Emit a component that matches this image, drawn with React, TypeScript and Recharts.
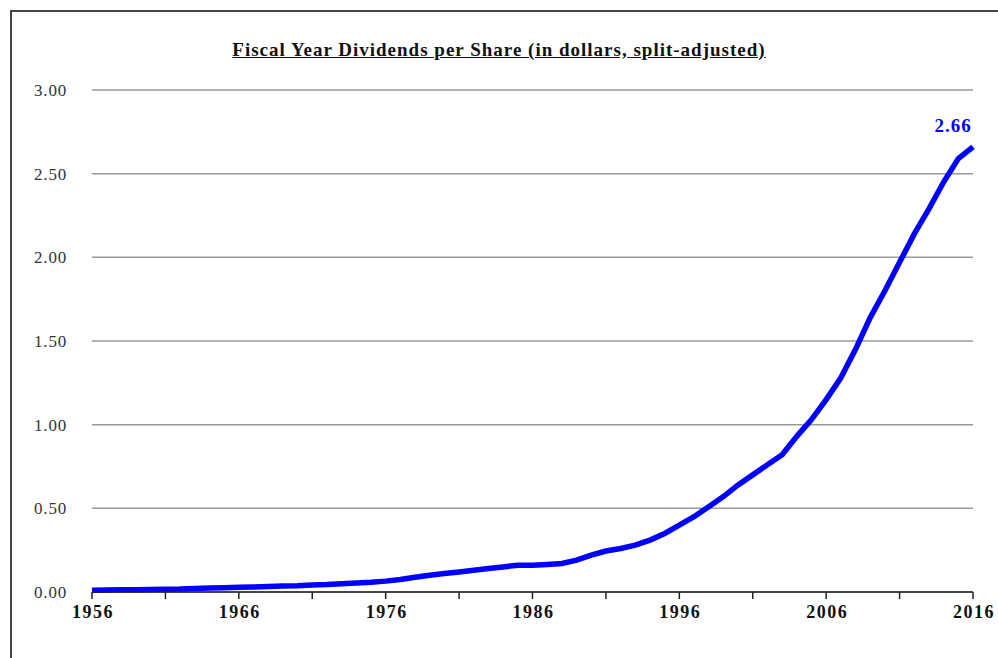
import React from 'react';
import { LineChart, Line, XAxis, YAxis, CartesianGrid } from 'recharts';

const years = [
  1956, 1957, 1958, 1959, 1960, 1961, 1962, 1963, 1964, 1965,
  1966, 1967, 1968, 1969, 1970, 1971, 1972, 1973, 1974, 1975,
  1976, 1977, 1978, 1979, 1980, 1981, 1982, 1983, 1984, 1985,
  1986, 1987, 1988, 1989, 1990, 1991, 1992, 1993, 1994, 1995,
  1996, 1997, 1998, 1999, 2000, 2001, 2002, 2003, 2004, 2005,
  2006, 2007, 2008, 2009, 2010, 2011, 2012, 2013, 2014, 2015, 2016,
];

const dividends = [
  0.01, 0.012, 0.013, 0.014, 0.015, 0.017, 0.018, 0.021, 0.024, 0.026,
  0.028, 0.03, 0.033, 0.036, 0.038, 0.042, 0.045, 0.05, 0.054, 0.058,
  0.065, 0.075, 0.088, 0.1, 0.11, 0.12, 0.13, 0.14, 0.15, 0.16,
  0.16, 0.165, 0.17, 0.19, 0.22, 0.245, 0.26, 0.28, 0.31, 0.35,
  0.4, 0.45, 0.51, 0.57, 0.64, 0.7, 0.76, 0.82, 0.93, 1.03,
  1.15, 1.28, 1.45, 1.64, 1.8, 1.97, 2.14, 2.29, 2.45, 2.59, 2.66,
];

const xTicks = [1956, 1961, 1966, 1971, 1976, 1981, 1986, 1991, 1996, 2001, 2006, 2011, 2016];
const yTicks = [0, 0.5, 1, 1.5, 2, 2.5, 3];
const endLabel = '2.66';

const chartData = years.map((year, i) => ({ year, value: dividends[i] }));

const font = '"Liberation Serif", "Times New Roman", serif';

// only every other tick (10 years) carries a label
const XTick = ({ x, y, payload }: any) => {
  if ((payload.value - 1956) % 10 !== 0) return null;
  return (
    <text x={x + 1} y={y} dy={17} textAnchor="middle" fontFamily={font} fontSize={18} fontWeight="bold" letterSpacing={1.5} fill="#111">
      {payload.value}
    </text>
  );
};

const YTick = ({ x, y, payload }: any) => (
  <text x={x} y={y} dy={6} textAnchor="end" fontFamily={font} fontSize={17} letterSpacing={0.8} fill="#333">
    {payload.value.toFixed(2)}
  </text>
);

const EndLabel = ({ x, y, index }: any) => {
  if (index !== years.length - 1) return null;
  return (
    <text x={x - 20} y={y - 15} textAnchor="middle" fontFamily={font} fontSize={19} fontWeight="bold" letterSpacing={1} fill="#0000ff">
      {endLabel}
    </text>
  );
};

export default function App() {
  return (
    <div style={{ position: 'absolute', left: 0, top: 0, width: 998, height: 658, overflow: 'hidden', background: '#fff' }}>
      <div style={{ position: 'absolute', left: 10, top: 10, width: 1100, height: 800, border: '2px solid #444' }} />
      <div
        style={{
          position: 'absolute', left: 0, top: 39, width: 998, textAlign: 'center',
          fontFamily: font, fontSize: 19, fontWeight: 'bold', letterSpacing: 1, textDecoration: 'underline', color: '#111',
        }}
      >
        Fiscal Year Dividends per Share (in dollars, split-adjusted)
      </div>
      <div style={{ position: 'absolute', left: 0, top: 0 }}>
        <LineChart width={998} height={658} data={chartData} margin={{ top: 90, right: 25, left: 0, bottom: 26 }}>
          <CartesianGrid vertical={false} stroke="#999" strokeWidth={1.5} />
          <XAxis
            dataKey="year"
            type="number"
            domain={[1956, 2016]}
            ticks={xTicks}
            interval={0}
            height={40}
            tick={<XTick />}
            tickSize={7}
            tickMargin={2}
            axisLine={{ stroke: '#222', strokeWidth: 1.5 }}
            tickLine={{ stroke: '#222', strokeWidth: 1.5 }}
          />
          <YAxis
            type="number"
            domain={[0, 3]}
            ticks={yTicks}
            width={92}
            axisLine={false}
            tickLine={false}
            tickSize={6}
            tickMargin={19}
            tick={<YTick />}
          />
          <Line
            type="linear"
            dataKey="value"
            stroke="#0000ff"
            strokeWidth={5.5}
            dot={false}
            activeDot={false}
            label={<EndLabel />}
            isAnimationActive={false}
          />
        </LineChart>
      </div>
    </div>
  );
}
